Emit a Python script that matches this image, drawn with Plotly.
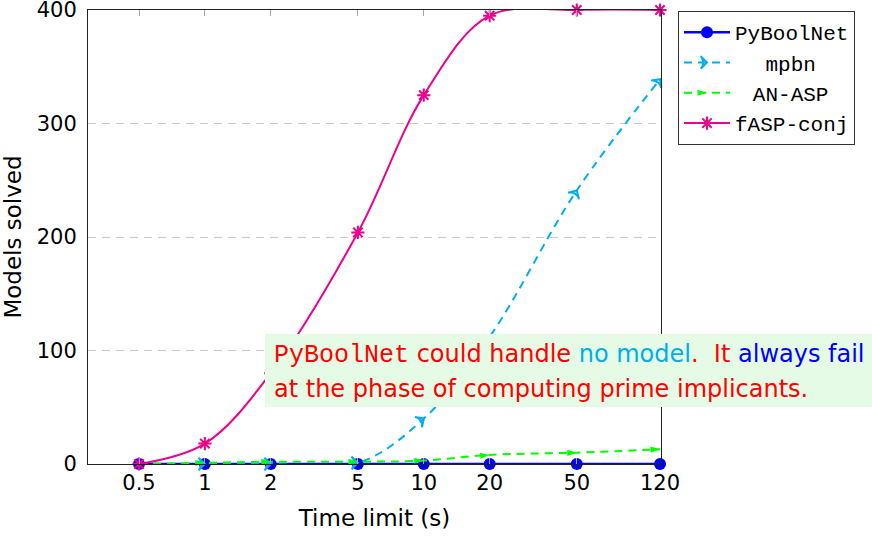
import math
import plotly.graph_objects as go

# ---- data ----
time_limits = [0.5, 1, 2, 5, 10, 20, 50, 120]
tick_labels = ["0.5", "1", "2", "5", "10", "20", "50", "120"]
pyboolnet = [0, 0, 0, 0, 0, 0, 0, 0]
mpbn = [0, 0, 0, 1, 40, 112, 241, 339]
an_asp = [0, 1, 2, 2, 3, 8, 10, 13]
fasp_conj = [0, 18, 80, 204, 325, 395, 400, 400]
y_ticks = [0, 100, 200, 300, 400]

BLUE = "#0000FF"
CYAN = "#00AEEF"
GREEN = "#00FF00"
MAGENTA = "#EC008C"
RED = "#FF0000"
SANS = "DejaVu Sans"
MONO = "Liberation Mono, Courier New, monospace"

W, H = 872, 537
L, R, T, B = 88, 872 - 661, 10, 537 - 464
PW, PH = W - L - R, H - T - B


def px_x(p):
    return (p - L) / PW


def px_y(p):
    return (H - B - p) / PH


fig = go.Figure()

fig.add_trace(go.Scatter(
    x=time_limits, y=pyboolnet, name="PyBoolNet", mode="lines+markers",
    line=dict(color=BLUE, width=2.5),
    marker=dict(symbol="circle", size=12, color=BLUE),
    cliponaxis=False,
))
fig.add_trace(go.Scatter(
    x=time_limits, y=mpbn, name="\u00a0\u00a0\u2005mpbn", mode="lines+markers",
    line=dict(color=CYAN, width=2, dash="8px,6px", shape="spline", smoothing=1),
    marker=dict(symbol="arrow-wide-open", size=9, color=CYAN,
                line=dict(width=2, color=CYAN), angleref="previous"),
    cliponaxis=False,
))
fig.add_trace(go.Scatter(
    x=time_limits, y=an_asp, name="\u00a0\u2005AN-ASP", mode="lines+markers",
    line=dict(color=GREEN, width=2, dash="8px,6px", shape="spline", smoothing=1),
    marker=dict(symbol="arrow", size=10, color=GREEN, angleref="previous"),
    cliponaxis=False,
))
fig.add_trace(go.Scatter(
    x=time_limits, y=fasp_conj, name="fASP-conj", mode="lines+markers",
    line=dict(color=MAGENTA, width=2, shape="spline", smoothing=1),
    marker=dict(symbol="asterisk-open", size=11, color=MAGENTA,
                line=dict(width=2, color=MAGENTA)),
    cliponaxis=False,
))

x_left = math.log10(0.5) - (139 - 88) / 218.9
x_right = math.log10(120) + 1 / 218.9

fig.update_xaxes(
    type="log", range=[x_left, x_right], automargin=False,
    tickvals=time_limits, ticktext=tick_labels,
    showgrid=False, zeroline=False,
    showline=True, linecolor="#222222", linewidth=1, mirror="allticks",
    ticks="inside", ticklen=6, tickcolor="#AAAAAA", tickwidth=1,
    tickfont=dict(family=SANS, size=21, color="#000000"),
    ticklabeloverflow="allow",
    title=dict(text="Time limit (s)", font=dict(family=SANS, size=23, color="#000000"), standoff=15),
)
fig.update_yaxes(
    range=[0, 400], tickvals=y_ticks, automargin=False,
    showgrid=True, gridcolor="#C8C8C8", griddash="8px,6px", gridwidth=1,
    zeroline=False,
    showline=True, linecolor="#222222", linewidth=1, mirror="allticks",
    ticks="", ticklabelstandoff=6,
    tickfont=dict(family=SANS, size=21, color="#000000"),
    ticklabeloverflow="allow",
    title=dict(text="Models solved", font=dict(family=SANS, size=23, color="#000000"), standoff=8),
)

# annotation box
fig.add_shape(type="rect", xref="paper", yref="paper",
              x0=px_x(265), x1=px_x(890), y0=px_y(407), y1=px_y(334),
              fillcolor="#E5FBE5", line=dict(width=0), layer="above")

line1 = (f'<span style="font-family:Liberation Mono; font-size:25px">PyBoolNet</span> could handle '
         f'<span style="color:{CYAN}">no model</span>.\u00a0 It '
         f'<span style="color:{BLUE}">always fail</span>')
line2 = "at the phase of computing prime implicants."
fig.add_annotation(xref="paper", yref="paper", x=px_x(272), y=px_y(355),
                   xanchor="left", yanchor="middle", text=line1, showarrow=False,
                   font=dict(family=SANS, size=24, color=RED))
fig.add_annotation(xref="paper", yref="paper", x=px_x(272), y=px_y(389),
                   xanchor="left", yanchor="middle", text=line2, showarrow=False,
                   font=dict(family=SANS, size=24, color=RED))

fig.update_layout(
    width=W, height=H,
    margin=dict(l=L, r=R, t=T, b=B, autoexpand=False),
    plot_bgcolor="white", paper_bgcolor="white",
    legend=dict(
        x=px_x(678), y=px_y(11), xanchor="left", yanchor="top",
        bordercolor="#333333", borderwidth=1, bgcolor="white",
        font=dict(family=MONO, size=21, color="#000000"),
        itemwidth=46, tracegroupgap=0,
    ),
    showlegend=True,
)

fig.write_html("out.html", config={"displayModeBar": False},
               post_script="document.body.style.margin='0';")
